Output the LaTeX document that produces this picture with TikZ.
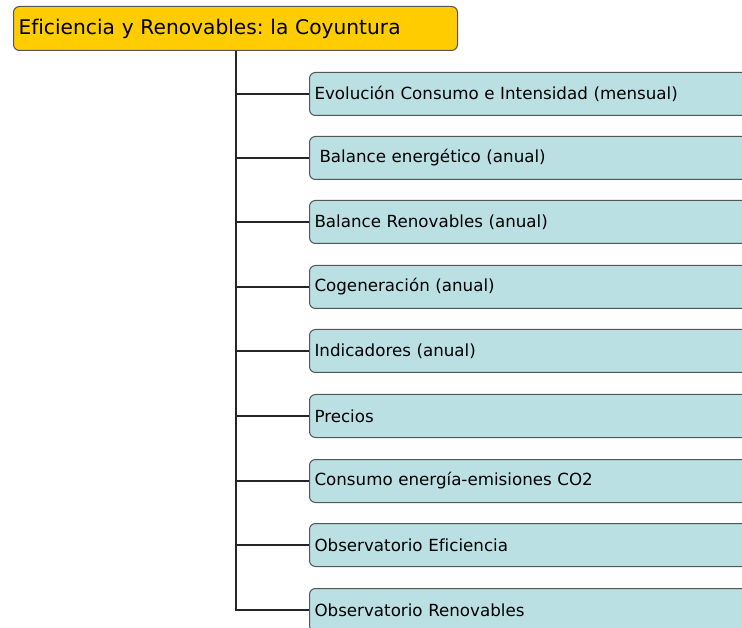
\documentclass[tikz,border=0pt]{standalone}
\usepackage{fontspec}
\setmainfont[Ligatures=NoCommon]{DejaVu Sans}
\frenchspacing
\definecolor{rootfill}{HTML}{FFCC00}
\definecolor{childfill}{HTML}{BAE0E3}
\definecolor{edge}{HTML}{555555}
\begin{document}
\begin{tikzpicture}[x=1pt,y=1pt,
  rootbox/.style={draw=edge, line width=1pt, fill=rootfill, rounded corners=6pt,
    minimum width=444pt, minimum height=44pt, text width=434pt, align=left,
    inner xsep=5pt, anchor=north west, font=\fontsize{20.2}{23}\selectfont},
  childbox/.style={draw=edge, line width=1pt, fill=childfill, rounded corners=6pt,
    minimum width=460pt, minimum height=43pt, text width=450pt, align=left,
    inner xsep=5pt, anchor=west, font=\fontsize{16.7}{19}\selectfont},
  conn/.style={draw=black!85, line width=1.6pt}]
\useasboundingbox (0,0) rectangle (742,-628);
\clip (0,0) rectangle (742,-628);
\node[rootbox] (root) at (13,-6) {Eficiencia y Renovables: la Coyuntura};
\coordinate (trunk) at (236,0);
\node[childbox] (c1) at (309,-94) {Evolución Consumo e Intensidad (mensual)};
\node[childbox] (c2) at (309,-158) {\hspace{5pt}Balance energético (anual)};
\node[childbox] (c3) at (309,-222) {Balance Renovables (anual)};
\node[childbox] (c4) at (309,-287) {Cogeneración (anual)};
\node[childbox] (c5) at (309,-351) {Indicadores (anual)};
\node[childbox] (c6) at (309,-416) {Precios};
\node[childbox] (c7) at (309,-481) {Consumo energía-emisiones CO2};
\node[childbox] (c8) at (309,-545) {Observatorio Eficiencia};
\node[childbox] (c9) at (309,-610) {Observatorio Renovables};
\foreach \c in {c1,c2,c3,c4,c5,c6,c7,c8,c9}
  \draw[conn] (root.south -| trunk) |- (\c.west);
\end{tikzpicture}
\end{document}
